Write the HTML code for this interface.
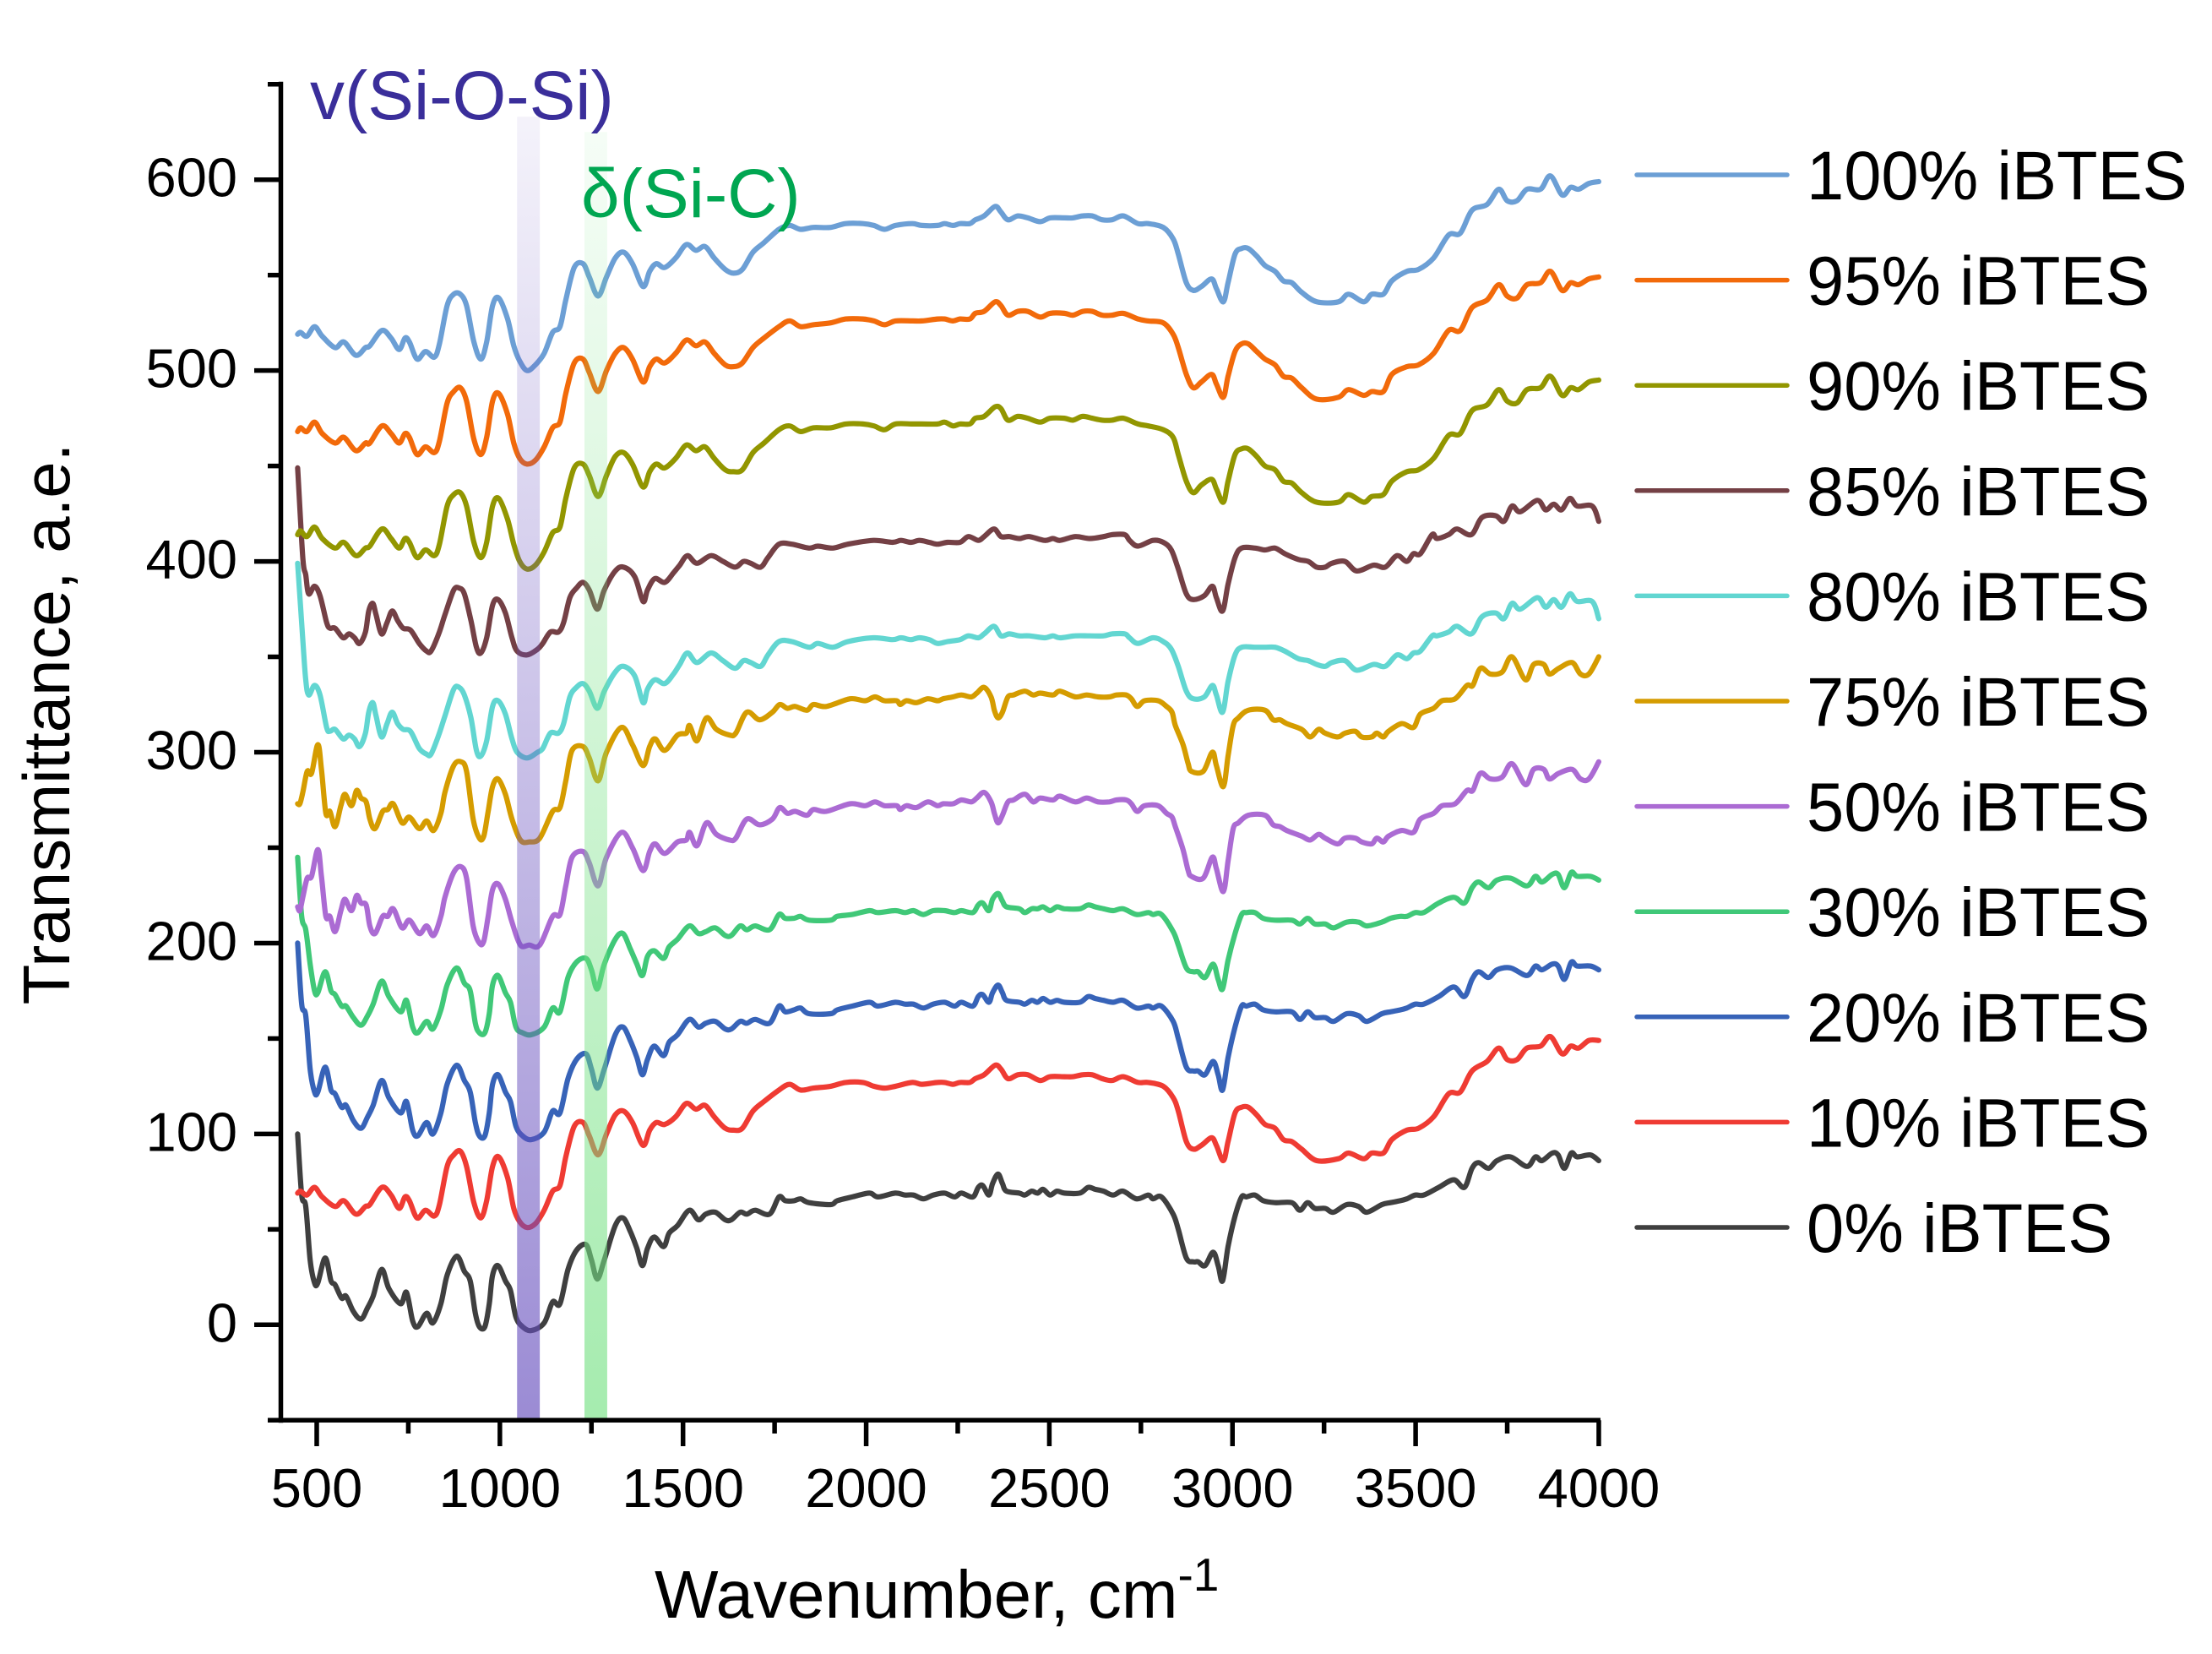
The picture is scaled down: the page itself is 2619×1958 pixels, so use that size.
<!DOCTYPE html>
<html lang="en">
<head>
<meta charset="utf-8">
<title>FTIR spectra of iBTES films</title>
<style>
html,body{margin:0;padding:0;background:#fff;width:2619px;height:1958px;overflow:hidden}
svg{display:block}
text{font-family:"Liberation Sans",Arial,sans-serif;fill:#000}
</style>
</head>
<body>
<svg id="chart" xmlns="http://www.w3.org/2000/svg" width="2619" height="1958" viewBox="0 0 2619 1958">
<defs>
<linearGradient id="bandPurple" x1="0" y1="0" x2="0" y2="1">
<stop offset="0" stop-color="rgb(101,77,189)" stop-opacity="0.07"/>
<stop offset="1" stop-color="rgb(101,77,189)" stop-opacity="0.65"/>
</linearGradient>
<linearGradient id="bandGreen" x1="0" y1="0" x2="0" y2="1">
<stop offset="0" stop-color="rgb(117,225,131)" stop-opacity="0.07"/>
<stop offset="1" stop-color="rgb(117,225,131)" stop-opacity="0.65"/>
</linearGradient>
</defs>
<g id="series-layer"></g>
<g id="band-layer"></g>
<g id="axis-layer"></g>
<g id="legend-layer"></g>
<text font-size="78" text-anchor="middle" transform="translate(82,857) rotate(-90)">Transmittance, a.e.</text>
<text font-size="80" x="775" y="1915">Wavenumber, cm<tspan font-size="55" dy="-32">-1</tspan></text>
<text font-size="82" x="367" y="141" style="fill:#3a2e9a">v(Si-O-Si)</text>
<text font-size="82" x="688" y="257" style="fill:#00a651">δ(Si-C)</text>
</svg>
<script>
const gridA = [
448,456,473,494,515,550,574,607,633,645,
678,703,725,741,753,774,797,821,835,856,
874,892,909,929,948,964,980,997,1021,1038,
1054,1074,1097,1121,1144,1164,1180,1203,1227,1244,
1268,1291,1315,1338,1362,1391,1409,1427,1450,1480,
1509,1535,1560,1585,1615,1638,1662,1691,1721,1762,
1791,1821,1856,1903,1944,1991,2021,2050,2080,2126,
2152,2195,2214,2237,2256,2283,2298,2322,2352,2368,
2387,2414,2441,2475,2502,2541,2564,2591,2617,2644,
2671,2702,2742,2770,2811,2838,2852,2874,2893,2915,
2943,2956,2975,2988,3007,3025,3043,3066,3089,3116,
3139,3162,3189,3230,3289,3317,3358,3380,3412,3435,
3476,3508,3549,3590,3622,3654,3695,3727,3750,3777,
3804,3841,3868,3900,3923,3945,3973,4000];
const values100 = [
519,520,518,523,518,512,515,508,512,513,
521,517,511,517,515,506,510,507,514,534,
540,540,534,515,506,515,534,538,527,513,
505,500,503,509,520,523,537,554,556,549,
539,549,559,562,556,544,552,556,554,559,
566,563,565,559,553,551,553,562,567,574,
576,574,575,575,577,577,576,574,576,577,
576,576,577,576,577,577,579,581,586,583,
579,581,580,578,580,580,580,581,581,579,
579,581,577,577,575,569,561,546,542,544,
548,543,536,546,561,564,564,560,555,552,
547,546,541,536,536,540,536,540,540,547,
552,553,559,571,572,584,587,595,589,589,
595,595,602,592,596,595,598,599];
const values95 = [
468,470,468,473,467,462,465,458,462,462,
471,467,462,467,465,456,460,457,463,483,
489,491,484,464,456,465,484,488,477,462,
454,451,453,460,470,473,488,504,506,499,
489,500,509,512,506,494,502,506,504,509,
516,513,515,509,503,502,504,512,517,523,
526,523,524,525,527,527,526,524,526,526,
526,527,527,526,527,527,530,531,536,534,
529,531,531,528,530,530,529,531,531,529,
529,530,527,526,525,519,512,498,491,494,
498,493,486,497,510,514,514,510,506,503,
497,496,491,485,486,490,487,489,489,498,
502,503,509,521,521,533,537,545,539,538,
545,546,552,542,546,545,548,549];
const values90 = [
414,416,413,418,412,407,410,403,407,408,
417,412,407,412,410,402,406,403,409,429,
435,436,429,410,402,410,429,433,422,409,
400,396,398,405,415,418,433,449,451,445,
434,445,455,457,451,439,447,451,449,454,
461,458,460,454,448,447,448,457,462,469,
471,468,470,470,472,472,471,469,472,472,
472,472,473,471,472,472,475,476,481,480,
474,476,475,473,475,475,474,476,475,474,
474,475,472,471,469,465,456,442,436,440,
443,438,431,442,456,459,459,455,450,448,
442,441,436,431,431,435,431,434,435,442,
447,448,454,466,467,479,482,490,484,483,
490,491,497,487,491,490,494,495];
const values10 = [
69,70,68,72,67,62,65,58,62,63,
72,68,61,67,65,56,60,57,63,83,
89,91,83,64,56,65,83,88,77,61,
54,51,53,60,70,73,88,104,106,99,
89,100,110,112,106,94,102,106,105,109,
116,113,115,109,103,102,103,112,117,123,
126,123,124,125,127,127,125,124,125,127,
126,127,127,126,127,127,129,131,136,134,
129,131,131,128,130,130,130,131,131,129,
128,130,127,127,125,119,112,96,92,94,
98,94,86,96,111,114,114,110,105,103,
97,96,92,86,87,90,87,90,90,97,
102,103,109,121,122,133,138,145,139,139,
145,146,151,142,146,145,149,149];

const gridB = [
448,462,470,478,494,509,527,536,550,572,
588,603,617,633,642,653,662,677,692,706,
721,736,756,780,800,812,833,850,874,889,
903,921,936,948,964,980,995,1015,1033,1047,
1074,1103,1117,1138,1160,1174,1191,1209,1227,1244,
1266,1285,1315,1338,1368,1391,1403,1423,1450,1474,
1491,1512,1538,1576,1609,1642,1665,1685,1712,1732,
1762,1797,1844,1868,1909,1950,2020,2072,2095,2122,
2145,2172,2195,2222,2256,2279,2306,2322,2349,2368,
2391,2418,2445,2487,2510,2529,2571,2610,2648,2671,
2706,2719,2742,2783,2811,2833,2852,2874,2893,2923,
2945,2956,2973,2988,3007,3025,3061,3089,3116,3143,
3180,3207,3230,3253,3271,3307,3339,3385,3417,3449,
3476,3494,3513,3545,3558,3590,3613,3652,3681,3718,
3741,3763,3786,3832,3855,3877,3898,3921,3941,3982,
4000];
const values85 = [
449,402,393,383,387,382,368,365,365,360,
362,360,357,363,374,378,372,362,368,374,
369,365,364,357,353,353,362,372,385,386,
383,369,355,352,360,377,380,373,360,353,
351,354,357,363,363,368,381,386,389,385,
375,385,395,397,392,379,385,391,389,394,
398,403,399,403,400,397,400,399,397,402,
409,409,407,408,407,409,411,410,411,410,
411,410,409,410,410,413,411,413,417,413,
413,412,413,411,412,411,413,412,413,414,
414,411,408,411,410,406,396,383,380,382,
387,381,374,388,402,407,407,406,407,404,
401,400,397,397,399,400,395,398,397,403,
400,404,404,414,412,414,417,414,423,424,
421,429,426,432,427,430,427,433,429,429,
421];
const values80 = [
399,359,338,330,335,330,313,311,312,307,
309,307,303,310,321,326,319,308,315,321,
315,312,311,302,299,299,309,319,333,334,
330,318,301,298,306,324,327,320,307,300,
297,300,302,310,310,315,329,334,336,332,
323,332,342,345,340,326,333,338,336,341,
346,352,347,352,348,344,348,347,345,351,
358,358,355,357,355,358,360,359,360,359,
360,359,357,358,359,361,360,362,366,361,
362,361,361,360,361,360,361,361,361,362,
362,360,357,360,358,354,345,332,328,329,
335,330,321,337,351,355,355,355,355,353,
349,348,346,345,347,348,343,346,345,351,
349,352,353,361,361,363,366,362,371,373,
370,378,375,381,376,380,376,383,379,379,
370];

const gridC = [
448,454,462,474,486,503,513,525,536,550,
566,577,595,609,621,635,645,659,680,694,
709,733,753,780,800,819,839,850,874,894,
909,927,944,956,968,980,995,1015,1033,1056,
1080,1109,1144,1164,1180,1197,1227,1244,1268,1291,
1332,1362,1391,1409,1424,1450,1485,1509,1518,1538,
1564,1591,1627,1644,1674,1709,1744,1764,1785,1806,
1838,1856,1891,1956,1997,2024,2050,2083,2093,2110,
2137,2168,2195,2210,2237,2260,2287,2302,2322,2341,
2350,2360,2372,2387,2402,2433,2456,2475,2510,2529,
2571,2602,2633,2664,2683,2710,2724,2740,2760,2797,
2820,2835,2844,2865,2879,2888,2920,2945,2956,2975,
2988,3002,3016,3043,3089,3111,3130,3148,3189,3212,
3235,3253,3287,3307,3335,3353,3380,3394,3412,3426,
3462,3494,3513,3549,3572,3608,3640,3656,3677,3704,
3736,3763,3800,3822,3850,3865,3891,3927,3950,3973,
4000];
const values75 = [
273,273,279,290,289,304,291,268,269,261,
272,278,272,280,276,274,265,260,269,270,
273,263,266,260,264,259,268,279,293,295,
290,265,255,256,269,282,286,278,265,254,
253,255,269,271,285,301,303,297,285,300,
313,304,293,303,307,301,309,310,314,306,
318,312,309,310,321,317,321,325,323,324,
322,325,324,328,327,329,327,327,325,327,
326,328,327,328,329,330,329,331,334,329,
322,318,321,329,330,332,330,331,330,332,
329,330,329,329,330,330,328,324,327,327,
324,321,314,304,294,290,290,300,293,282,
298,314,318,322,322,317,317,315,312,308,
312,310,308,310,311,308,308,310,308,311,
315,313,320,323,327,328,335,335,344,341,
342,350,338,346,346,341,344,347,341,341,
350];
const values50 = [
219,217,224,234,235,249,235,214,214,206,
217,223,217,225,221,220,209,205,214,214,
218,208,212,205,209,204,214,224,237,240,
234,209,200,201,214,228,231,223,211,199,
199,199,214,215,230,245,248,242,230,245,
258,250,238,248,252,247,253,254,258,251,
263,257,254,255,265,262,265,271,268,269,
267,270,269,273,272,274,272,272,270,272,
271,274,272,273,273,275,274,276,279,274,
268,263,267,274,275,278,274,276,275,277,
274,276,274,274,275,275,273,269,272,272,
268,266,261,249,238,235,234,245,239,227,
243,260,263,267,267,262,261,259,256,254,
257,255,252,255,255,253,252,255,253,256,
259,258,265,268,272,273,280,280,289,286,
287,294,283,291,291,286,289,291,286,286,
295];

const gridD = [
448,459,470,482,494,503,523,539,550,568,
580,600,621,639,654,677,697,729,745,762,
776,800,817,839,856,882,903,919,933,944,
959,971,980,995,1015,1029,1044,1062,1086,1121,
1144,1164,1186,1209,1235,1250,1266,1285,1315,1336,
1356,1374,1389,1403,1421,1447,1462,1485,1517,1542,
1562,1588,1615,1632,1656,1674,1697,1736,1762,1779,
1803,1821,1844,1903,1921,1962,2009,2032,2079,2106,
2129,2156,2183,2214,2241,2260,2291,2306,2318,2335,
2345,2360,2372,2383,2418,2433,2452,2468,2483,2502,
2521,2541,2583,2606,2625,2648,2674,2701,2738,2770,
2783,2806,2838,2852,2874,2893,2906,2925,2947,2961,
2973,2988,3007,3025,3038,3061,3084,3116,3162,3184,
3205,3225,3253,3276,3312,3344,3367,3408,3431,3458,
3476,3499,3522,3563,3604,3633,3654,3672,3699,3722,
3759,3804,3827,3845,3873,3889,3906,3925,3941,3977,
4000];
const values30 = [
245,214,207,189,175,174,185,175,173,167,
167,161,157,162,168,180,172,164,170,156,
153,159,155,165,178,187,179,175,158,153,
153,163,178,183,174,169,156,153,152,156,
166,164,182,190,192,186,176,189,202,205,
197,189,183,193,196,192,198,202,209,205,
206,208,204,204,209,207,209,207,215,213,
213,214,212,212,214,215,217,216,217,216,
217,215,217,217,216,217,216,220,221,217,
223,226,222,219,218,216,218,218,219,217,
219,218,218,220,219,218,217,218,215,216,
215,215,206,199,187,185,185,182,189,181,
176,191,205,215,216,216,213,212,212,210,
213,210,210,208,211,211,209,211,213,214,
214,216,216,221,224,221,229,232,229,233,
234,230,235,232,236,236,229,237,235,235,
233];
const values20 = [
200,168,162,134,122,122,135,123,121,114,
115,107,103,109,115,128,119,111,117,102,
99,106,100,111,126,136,128,122,106,99,
99,111,126,131,122,117,104,99,97,101,
112,111,129,139,142,134,124,134,152,156,
149,140,131,139,146,141,148,152,160,156,
158,159,155,155,159,158,160,158,167,164,
165,166,163,163,165,167,169,167,169,168,
168,166,168,169,167,169,167,172,173,169,
174,178,174,170,169,168,170,169,171,169,
170,169,169,172,171,170,169,170,166,167,
166,167,159,150,135,133,133,131,138,131,
123,140,156,167,167,168,165,164,164,160,
164,161,161,159,163,162,159,163,164,165,
166,168,168,172,177,172,181,185,182,186,
187,183,188,186,189,188,181,190,188,188,
186];
const values0 = [
100,68,62,34,22,22,35,23,21,14,
15,7,3,9,15,29,19,11,17,2,
-1,6,1,11,26,36,28,23,6,-1,
-1,11,26,31,23,18,4,-1,-3,1,
12,11,29,39,42,34,24,34,52,56,
49,40,31,40,46,41,48,52,60,55,
58,59,55,55,59,58,60,58,67,65,
65,66,64,63,65,67,69,67,69,68,
68,66,68,69,67,69,67,72,73,68,
74,79,74,70,69,68,70,69,71,68,
70,69,69,72,71,70,68,70,66,68,
66,67,58,50,35,33,33,31,38,31,
23,41,57,67,67,68,65,64,64,60,
64,61,61,59,63,62,59,63,64,65,
66,68,68,72,76,72,82,85,82,86,
88,83,88,86,90,89,82,90,88,89,
86];

const seriesLabels = ["100% iBTES","95% iBTES","90% iBTES","85% iBTES","80% iBTES","75% iBTES","50% iBTES","30% iBTES","20% iBTES","10% iBTES","0% iBTES"];
const seriesSlugs = ["100","95","90","85","80","75","50","30","20","10","0"];
const seriesColors = ["#6c9fd5","#f26a0a","#929600","#744045","#62d6d1","#d59c00","#ab6bd3","#40c878","#3763b8","#ef3b33","#3f3f3f"];
const seriesGrids = [gridA,gridA,gridA,gridB,gridB,gridC,gridC,gridD,gridD,gridA,gridD];
const seriesValues = [values100,values95,values90,values85,values80,values75,values50,values30,values20,values10,values0];

const xMajorTicks = [500,1000,1500,2000,2500,3000,3500,4000];
const xMinorTicks = [750,1250,1750,2250,2750,3250,3750];
const yMajorTicks = [0,100,200,300,400,500,600];
const yMinorTicks = [-50,50,150,250,350,450,550,650];
const bandStart = [1047,1231];
const bandEnd = [1109,1293];
const bandTop = [633,625];
const bandSlugs = ["si-o-si-band","si-c-band"];
const bandFills = ["url(#bandPurple)","url(#bandGreen)"];

const SVGNS = "http://www.w3.org/2000/svg";
function xScale(w){ return 375 + (w - 500) * 0.4337; }
function yScale(v){ return 1568.3 - v * 2.2593; }
function make(tag, parent){
  const el = document.createElementNS(SVGNS, tag);
  parent.appendChild(el);
  return el;
}
function drawLine(el, x1, y1, x2, y2, width, color){
  el.setAttribute("x1", x1);
  el.setAttribute("y1", y1);
  el.setAttribute("x2", x2);
  el.setAttribute("y2", y2);
  el.setAttribute("stroke", color);
  el.setAttribute("stroke-width", width);
}
function smoothPath(xs, ys){
  let d = "M" + xs[0].toFixed(1) + " " + ys[0].toFixed(1);
  const n = xs.length;
  for (let i = 0; i < n - 1; i++) {
    const a = Math.max(i - 1, 0);
    const b = Math.min(i + 2, n - 1);
    const c1x = xs[i] + (xs[i + 1] - xs[a]) / 6;
    const c1y = ys[i] + (ys[i + 1] - ys[a]) / 6;
    const c2x = xs[i + 1] - (xs[b] - xs[i]) / 6;
    const c2y = ys[i + 1] - (ys[b] - ys[i]) / 6;
    d += "C" + c1x.toFixed(1) + " " + c1y.toFixed(1) + " " + c2x.toFixed(1) + " " + c2y.toFixed(1) + " " + xs[i + 1].toFixed(1) + " " + ys[i + 1].toFixed(1);
  }
  return d;
}

const seriesLayer = document.getElementById("series-layer");
for (let s = seriesValues.length - 1; s >= 0; s--) {
  const grid = seriesGrids[s];
  const vals = seriesValues[s];
  const xs = vals.map(function(v, i){ return xScale(grid[i]); });
  const ys = vals.map(function(v){ return yScale(v); });
  const line = make("path", seriesLayer);
  
  
  line.setAttribute("d", smoothPath(xs, ys));
  line.setAttribute("fill", "none");
  line.setAttribute("stroke", seriesColors[s]);
  line.setAttribute("stroke-width", "6.2");
  line.setAttribute("stroke-linejoin", "round");
  line.setAttribute("stroke-linecap", "round");
}

const bandLayer = document.getElementById("band-layer");
bandStart.forEach(function(start, i){
  const rect = make("rect", bandLayer);
  
  
  rect.setAttribute("x", xScale(start));
  rect.setAttribute("width", xScale(bandEnd[i]) - xScale(start));
  rect.setAttribute("y", yScale(bandTop[i]));
  rect.setAttribute("height", yScale(-50) - yScale(bandTop[i]));
  rect.setAttribute("fill", bandFills[i]);
});

const axisLayer = document.getElementById("axis-layer");
const yAxisLine = make("line", axisLayer);


drawLine(yAxisLine, 332.5, yScale(650) - 3, 332.5, yScale(-50) + 3, 5.5, "#000");
const xAxisLine = make("line", axisLayer);


drawLine(xAxisLine, 317, yScale(-50), xScale(4000) + 2, yScale(-50), 5.5, "#000");

yMajorTicks.forEach(function(v){
  const tick = make("line", axisLayer);
  
  
  drawLine(tick, 301, yScale(v), 332, yScale(v), 5.5, "#000");
  const label = make("text", axisLayer);
  
  
  label.setAttribute("x", 281);
  label.setAttribute("y", yScale(v) + 20);
  label.setAttribute("font-size", "65");
  label.setAttribute("text-anchor", "end");
  label.textContent = String(v);
});
yMinorTicks.forEach(function(v){
  const tick = make("line", axisLayer);
  
  
  drawLine(tick, 317, yScale(v), 332, yScale(v), 5.5, "#000");
});
xMajorTicks.forEach(function(w){
  const tick = make("line", axisLayer);
  
  
  drawLine(tick, xScale(w), yScale(-50), xScale(w), 1712, 5.5, "#000");
  const label = make("text", axisLayer);
  
  
  label.setAttribute("x", xScale(w));
  label.setAttribute("y", 1784);
  label.setAttribute("font-size", "65");
  label.setAttribute("text-anchor", "middle");
  label.textContent = String(w);
});
xMinorTicks.forEach(function(w){
  const tick = make("line", axisLayer);
  
  
  drawLine(tick, xScale(w), yScale(-50), xScale(w), 1697, 5.5, "#000");
});

const legendLayer = document.getElementById("legend-layer");
seriesLabels.forEach(function(label, i){
  const rowY = 207 + i * 124.6;
  const swatch = make("line", legendLayer);
  
  
  drawLine(swatch, 1938, rowY, 2116, rowY, 5.5, seriesColors[i]);
  swatch.setAttribute("stroke-linecap", "round");
  const text = make("text", legendLayer);
  
  
  text.setAttribute("transform", "translate(2139," + (rowY + 29) + ") scale(1,1.03)");
  text.setAttribute("font-size", "79.5");
  text.textContent = label;
});
</script>
</body>
</html>
